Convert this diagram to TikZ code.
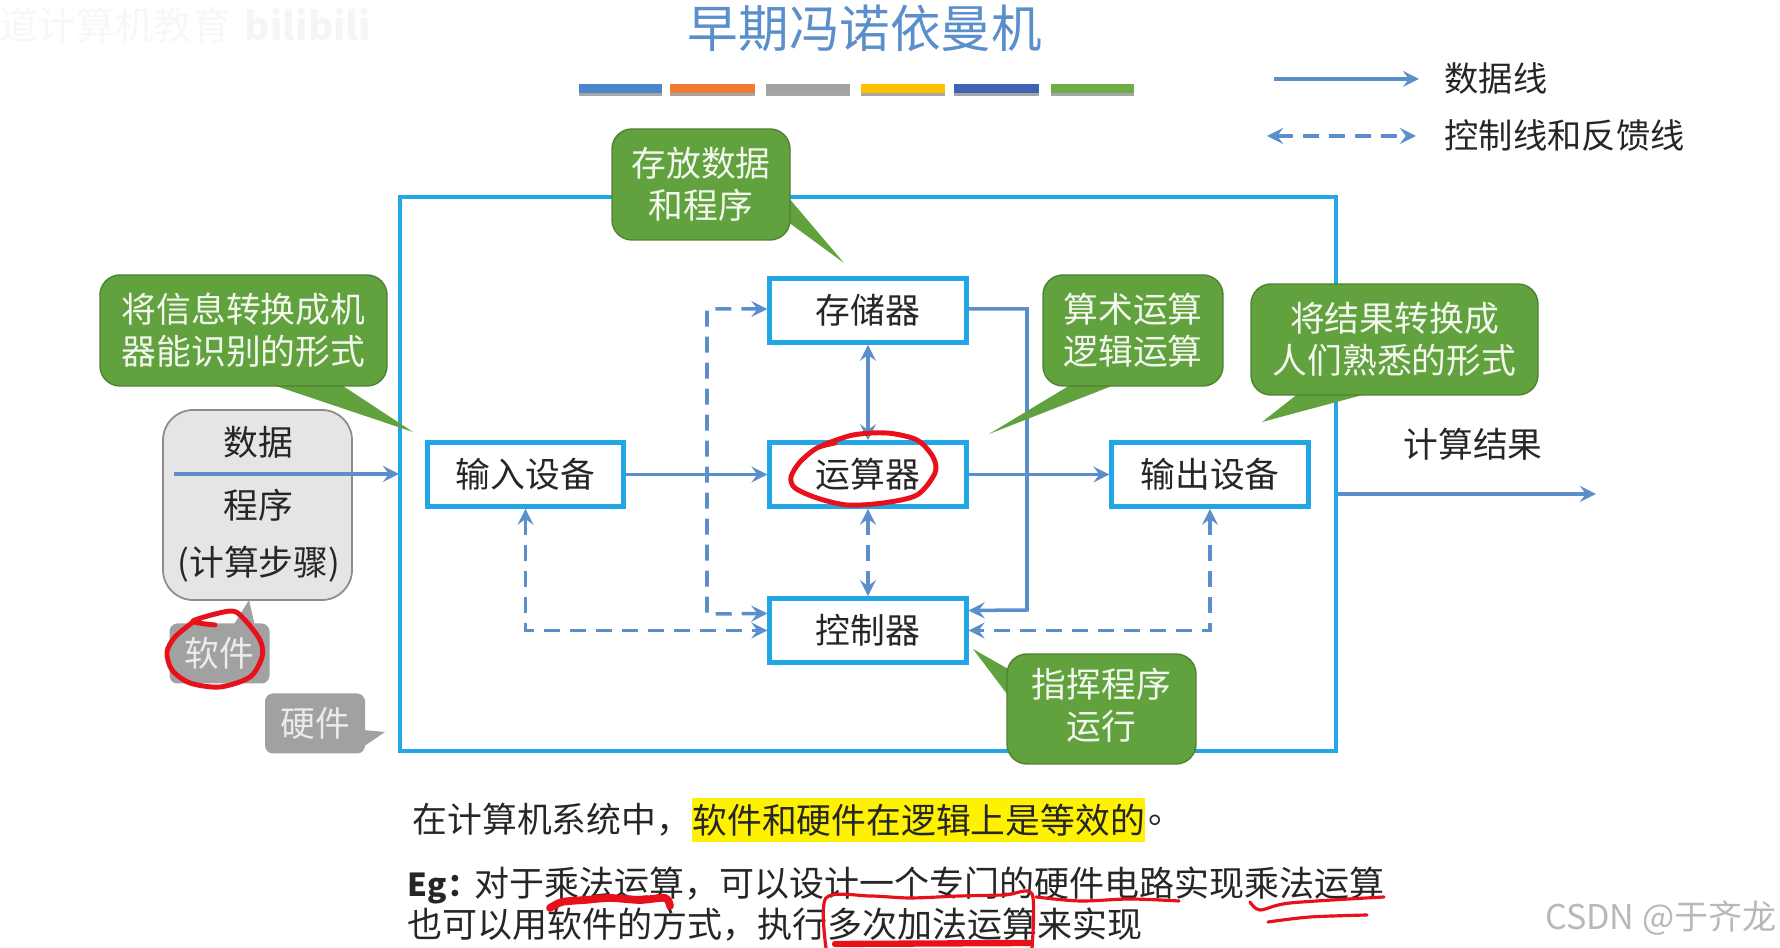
\documentclass[tikz,border=0pt]{standalone}
\usepackage{fontspec}
\setmainfont{Noto Sans CJK SC}
\usetikzlibrary{positioning,shadows}
\definecolor{framecol}{HTML}{22A6E6}
\definecolor{linecol}{HTML}{5B8FCB}
\definecolor{notecol}{HTML}{62A23E}
\definecolor{inkcol}{HTML}{E8101A}
\tikzset{
	txt/.style={font=\fontsize{9.9}{12}\selectfont,text=black!85,inner sep=0pt},
	unit/.style={txt,draw=framecol,line width=1.3pt,fill=white,minimum width=1.965cm,minimum height=0.64cm},
	notetxt/.style={txt,text=white!92!notecol,align=center},
	note/.style={notetxt,draw=notecol!80!black,line width=0.4pt,fill=notecol,rounded corners=0.2cm,minimum height=1.11cm},
	tail/.style={fill=notecol},
	graynote/.style={txt,text=white!92!black,fill=black!37,rounded corners=0.08cm,minimum width=1cm,minimum height=0.6cm},
	data/.style={linecol,line width=1pt,>=stealth},
	ctrl/.style={data,dash pattern=on 0.16cm off 0.1cm},
	ink/.style={inkcol,line width=1.4pt,line cap=round,line join=round},
	inkthin/.style={ink,line width=0.9pt},
	bodytxt/.style={txt,font=\fontsize{9.96}{12}\selectfont},
}
\begin{document}
\begin{tikzpicture}
	\useasboundingbox (0,0) rectangle (17.8,-9.48);
	\node[txt,text=black!3] (mark1) at (1.15,-0.25) {\fontsize{11}{13}\selectfont 道计算机教育};
	\node[txt,text=black!4] (mark2) at (3.08,-0.25) {\fontsize{11}{13}\bfseries\selectfont bilibili};
	\node[txt,text=linecol] (title) at (8.65,-0.28) {\fontsize{14.4}{16}\selectfont 早期冯诺依曼机};
	\foreach \xa/\xb/\barcol in {5.79/6.62/4A86C8,6.70/7.55/ED7D31,7.66/8.50/A3A3A3,8.61/9.45/FFC000,9.54/10.39/3F62B5,10.51/11.34/70AD47}{
		\definecolor{barfill}{HTML}{\barcol}
		\fill[black!35] (\xa,-0.86) rectangle (\xb,-0.965);
		\fill[barfill] (\xa,-0.84) rectangle (\xb,-0.93);
	}
	\node[txt,anchor=west] (leg1) at (14.44,-0.79) {\fontsize{9.75}{12}\selectfont 数据线};
	\node[txt,anchor=west] (leg2) at (14.44,-1.36) {\fontsize{9.75}{12}\selectfont 控制线和反馈线};
	\coordinate (la) at (12.74,-0.79);
	\coordinate (lb) at (14.19,-0.79);
	\coordinate (lc) at (12.67,-1.36);
	\coordinate (ld) at (14.16,-1.36);
	\draw[data,->] (la) -- (lb);
	\draw[ctrl,<->] (lc) -- (ld);
	\draw[framecol,line width=1.4pt] (4,-1.97) rectangle (13.36,-7.51);
	\node[unit] (mem) at (8.68,-3.105) {存储器};
	\node[unit] (alu) at (8.68,-4.745) {运算器};
	\node[unit] (cu) at (8.68,-6.305) {控制器};
	\node[unit] (inp) at (5.255,-4.745) {输入设备};
	\node[unit] (outp) at (12.1,-4.745) {输出设备};
	\coordinate (inl) at (1.74,-4.74);
	\coordinate (inr) at (3.99,-4.74);
	\coordinate (resl) at (13.38,-4.94);
	\coordinate (resr) at (15.96,-4.94);
	\coordinate (busr) at (10.27,-3.09);
	\coordinate (busl) at (7.07,-3.09);
	\draw[data,->] (inp) -- (alu);
	\draw[data,->] (alu) -- (outp);
	\draw[data,<->] (mem) -- (alu);
	\draw[data,->] (resl) -- (resr);
	\draw[data,->] (mem.east |- busr) -- (busr) -- (busr |- 0,-6.1) -- ([yshift=0.2cm]cu.east);
	\draw[ctrl,<->] (mem.west |- busl) -- (busl) -- (busl |- 0,-6.14) -- ([yshift=0.17cm]cu.west);
	\draw[ctrl,<->] (alu) -- (cu);
	\draw[ctrl,<->] (inp) -- (inp |- cu) -- (cu);
	\draw[ctrl,<->] (outp) -- (outp |- cu) -- (cu);
	\node[txt] (res) at (14.73,-4.44) {计算结果};
	\node[txt,fill=black!10,draw=black!45,line width=0.5pt,rounded corners=0.3cm,minimum width=1.89cm,minimum height=1.9cm] (soft) at (2.575,-5.05) {};
	\node[txt] (s1) at (2.58,-4.42) {数据};
	\node[txt] (s2) at (2.58,-5.05) {程序};
	\node[txt] (s3) at (2.59,-5.64) {(计算步骤)};
	\draw[data,->] (inl) -- (inr);
	\fill[black!37] (2.33,-6.26) -- (2.49,-6) -- (2.55,-6.26) -- cycle;
	\node[graynote] (sw) at (2.195,-6.535) {软件};
	\fill[black!37] (3.63,-7.3) -- (3.85,-7.32) -- (3.63,-7.47) -- cycle;
	\node[graynote] (hw) at (3.15,-7.235) {硬件};
	\fill[tail] (7.88,-1.97) -- (8.44,-2.63) -- (7.88,-2.22) -- cycle;
	\node[note,minimum width=1.78cm] (n1) at (7.01,-1.845) {存放数据\\和程序};
	\fill[tail] (2.7,-3.84) -- (4.13,-4.32) -- (3.4,-3.84) -- cycle;
	\node[note,minimum width=2.87cm] (n2) at (2.435,-3.305) {将信息转换成机\\器能识别的形式};
	\fill[tail] (10.72,-3.84) -- (9.89,-4.34) -- (11.17,-3.84) -- cycle;
	\node[note,minimum width=1.8cm] (n3) at (11.33,-3.305) {算术运算\\逻辑运算};
	\fill[tail] (12.99,-3.93) -- (12.62,-4.22) -- (13.7,-3.93) -- cycle;
	\node[note,minimum width=2.87cm] (n4) at (13.945,-3.395) {将结果转换成\\人们熟悉的形式};
	\fill[tail] (10.1,-6.7) -- (9.73,-6.49) -- (10.1,-6.98) -- cycle;
	\node[note,minimum width=1.89cm,minimum height=1.1cm] (n5) at (11.015,-7.09) {};
	\node[notetxt] (n5txt) at (11.015,-7.055) {指挥程序\\运行};
	\draw[ink,smooth] plot coordinates {(8.35,-4.43) (8.17,-4.48) (8,-4.62) (7.91,-4.77) (7.95,-4.88) (8.17,-4.98) (8.47,-5.05) (8.83,-5.03) (9.17,-4.95) (9.35,-4.73) (9.33,-4.57) (9.17,-4.4) (8.87,-4.33) (8.53,-4.35) (8.23,-4.45)};
	\draw[ink,smooth] plot coordinates {(2.15,-6.25) (1.93,-6.21) (2.3,-6.11) (2.43,-6.18) (2.6,-6.4) (2.62,-6.57) (2.5,-6.77) (2.2,-6.87) (1.9,-6.83) (1.72,-6.7) (1.67,-6.52) (1.75,-6.37) (1.93,-6.22)};
	\node[txt,anchor=west] (l1) at (4.12,-8.2) {在计算机系统中，};
	\node[txt,fill=yellow,minimum height=0.44cm,right=0pt of l1] (l1b) {软件和硬件在逻辑上是等效的};
	\node[txt,right=0.02cm of l1b] (l1c) {。};
	\node[bodytxt,anchor=west] (l2) at (4.07,-8.85) {\textbf{\fontsize{9}{12}\selectfont Eg：}\hspace{-0.04cm}对于乘法运算，可以设计一个专门的硬件电路实现乘法运算};
	\node[bodytxt,anchor=west] (l3) at (4.07,-9.25) {也可以用软件的方式，执行多次加法运算来实现};
	\draw[ink,line width=2.2pt,smooth] plot coordinates {(5.5,-9.08) (5.62,-9.02) (5.85,-9.0) (6.1,-8.98) (6.4,-9.0) (6.65,-8.98) (6.7,-9.06)};
	\draw[inkthin,smooth] plot coordinates {(8.26,-9.48) (8.26,-8.98) (8.7,-8.96) (9.1,-8.98) (9.6,-8.96) (10.05,-8.95) (10.32,-8.94) (10.32,-9.48)};
	\draw[ink,line width=1.8pt] (8.35,-9.44) -- (10.3,-9.43);
	\draw[inkthin,smooth] plot coordinates {(10.36,-8.97) (10.8,-9.01) (11.3,-8.99) (11.79,-9.01)};
	\draw[inkthin,smooth] plot coordinates {(12.5,-9.02) (12.6,-9.1) (12.9,-9.03) (13.84,-8.97)};
	\draw[inkthin,smooth] plot coordinates {(12.68,-9.22) (13.1,-9.17) (13.67,-9.15)};
	\node[txt,text=black!28,font=\fontsize{9.7}{12}\selectfont] (csdn) at (16.61,-9.18) {CSDN @于齐龙};
\end{tikzpicture}
\end{document}
